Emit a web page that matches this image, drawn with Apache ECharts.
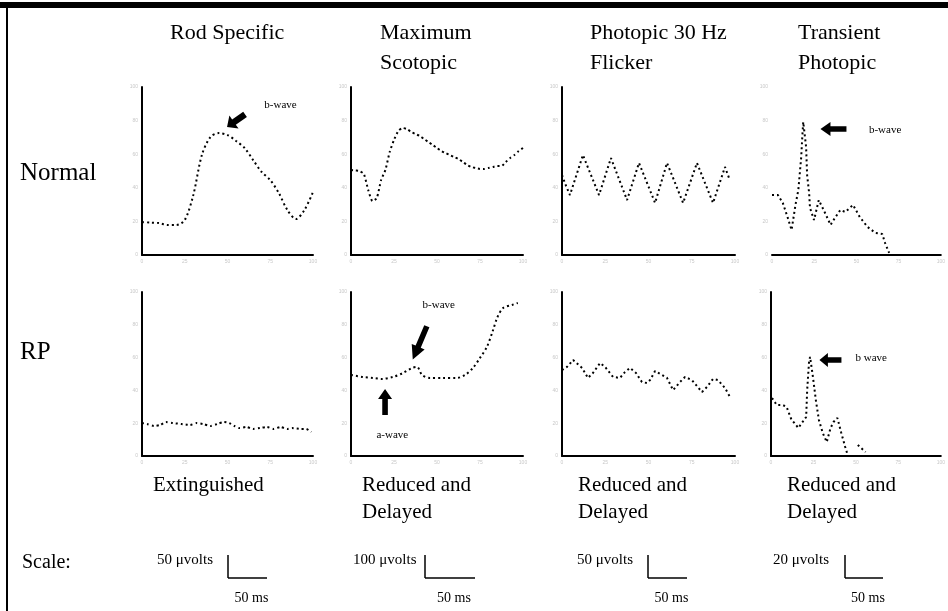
<!DOCTYPE html>
<html>
<head>
<meta charset="utf-8">
<title>ERG responses</title>
<script src="https://cdn.jsdelivr.net/npm/echarts@6/dist/echarts.min.js"></script>
<style>
  html, body { margin: 0; padding: 0; background: #fff; }
  #chart { width: 948px; height: 611px; }
</style>
</head>
<body>
<div id="chart"></div>
<script>
// column / row headings
const columnTitles = [['Rod Specific'], ['Maximum', 'Scotopic'], ['Photopic 30 Hz', 'Flicker'], ['Transient', 'Photopic']];
const rowTitles = ['Normal', 'RP'];
const findings = [['Extinguished'], ['Reduced and', 'Delayed'], ['Reduced and', 'Delayed'], ['Reduced and', 'Delayed']];
const voltScales = ['50 \u03bcvolts', '100 \u03bcvolts', '50 \u03bcvolts', '20 \u03bcvolts'];
const timeScales = ['50 ms', '50 ms', '50 ms', '50 ms'];

// traces: [time, amplitude] (time 0-100, amplitude 0-100)
const rodNormal = [[0, 19.6], [5, 19.3], [10, 19], [15, 17.9], [20, 17.9], [25, 20.8], [30, 35.7], [35, 59.5], [40, 70.2], [45, 72.6], [50, 71.4], [55, 67.9], [60, 63.7], [65, 56.5], [70, 49.4], [75, 44.6], [80, 36.9], [85, 26.8], [90, 21.4], [95, 26.8], [100, 37.5]];
const scotopicNormal = [[0, 50.6], [2.5, 50.3], [5, 50], [7.5, 48.2], [10, 38.7], [12.5, 32.1], [15, 33.9], [17.5, 44.6], [20, 50.6], [22.5, 61.3], [25, 68.5], [27.5, 73.8], [30, 75.6], [32.5, 75], [35, 73.2], [37.5, 72], [40, 70.8], [42.5, 69], [45, 67.3], [47.5, 65.5], [50, 63.7], [52.5, 61.9], [55, 60.7], [57.5, 59.5], [60, 58.3], [62.5, 57.1], [65, 55.4], [67.5, 53.6], [70, 52.4], [72.5, 51.8], [75, 51.2], [77.5, 51.2], [80, 51.8], [82.5, 52.4], [85, 53], [87.5, 53], [90, 55.4], [92.5, 57.7], [95, 59.5], [97.5, 61.9], [100, 63.7]];
const flickerNormal = [[0, 47.6], [2, 42], [4.6, 35.7], [12.1, 59.5], [21.4, 35.7], [28.3, 57.7], [37.6, 32.7], [44.5, 54.8], [53.8, 31], [60.7, 54.8], [70, 31], [78, 54.8], [87.3, 31], [94.2, 52.4], [97, 44.6]];
const transientNormal = [[0, 35.7], [3.5, 35.7], [6.4, 31], [9.2, 22.6], [11.6, 14.9], [13.9, 29.8], [15.6, 38.7], [17.3, 58.3], [17.9, 69.6], [18.5, 79.2], [20.2, 64.3], [20.8, 47.6], [22, 36.9], [22.5, 28], [24.9, 20.8], [27.7, 32.7], [30.6, 26.8], [34.7, 17.9], [37.6, 22.6], [40.5, 26.8], [43.4, 25.6], [48, 29.8], [52, 22.6], [56.6, 16.7], [61.3, 13.1], [65.3, 12.5], [67, 7.1], [69.4, 1.2]];
const rodRP = [[0, 20.1], [3, 19.5], [7, 18.3], [10.5, 18.9], [14, 20.7], [18, 20.1], [23, 19.5], [28, 18.9], [32, 20.1], [35.7, 19.5], [40, 18.3], [44, 19.5], [48, 20.7], [51, 20.1], [54, 18.3], [57, 17], [61, 17.7], [65, 16.5], [69, 17.1], [73, 17.7], [77, 16.5], [81, 17.7], [85, 16.5], [88, 17], [93, 16.5], [96, 16.5], [99, 14.6]];
const scotopicRP = [[0, 49.4], [6.9, 48.2], [12.8, 47.6], [18, 47], [24.4, 48.2], [30.2, 50.6], [35.5, 53.7], [38.4, 54.3], [41.3, 49.4], [45.9, 47.6], [53.5, 47.6], [61.6, 47.6], [66.3, 49.4], [70.9, 53.7], [75, 59.8], [79, 66.5], [82.6, 76.8], [84.9, 84.1], [88.4, 90.2], [93.6, 92.1], [97, 93.3]];
const flickerRP = [[0, 52.4], [2.9, 54.3], [6.4, 58.5], [11.6, 53.7], [15, 47.6], [17.9, 50.6], [22, 56.7], [24.9, 54.3], [29.5, 48.2], [33.5, 47.6], [36.4, 51.2], [39.3, 53.7], [42.8, 50.6], [46.2, 45.1], [49.1, 44.5], [50.9, 46.3], [53.8, 51.8], [57.8, 49.4], [60.7, 47.6], [64.2, 40.2], [68.2, 45.1], [71.1, 48.2], [75.1, 46.3], [80.9, 39], [83.8, 42.1], [87.3, 47], [90.2, 46.3], [94.2, 41.5], [97.1, 36]];
const transientRP = [[0.6, 35.4], [3.4, 31.1], [6.9, 31.1], [9.2, 29.9], [12.1, 22], [13.8, 20.1], [16.1, 17.1], [20.7, 23.8], [21.3, 40.2], [22.4, 57.3], [23, 60.4], [24.7, 48.2], [26.4, 34.1], [28.2, 22], [30.5, 14], [32.8, 8.5], [35.1, 17.1], [36.8, 20.7], [39.1, 23.2], [41.4, 14], [43.7, 5.5], [44.8, 1.8], null, [51.1, 6.7], [55.7, 2.4]];

const serif = '"Liberation Serif", "DejaVu Serif", serif';
// block arrow pointing up, rotated per use
const arrowPath = 'path://M10,0 L20,10 L14,10 L14,26 L6,26 L6,10 L0,10 Z';

function arrow (coord, rotate, size) {
    return { coord: coord, symbol: arrowPath, symbolSize: size, symbolRotate: rotate, itemStyle: { color: '#000' }, label: { show: false } };
}
function note (coord, text) {
    return {
        coord: coord, symbol: 'rect', symbolSize: 1, itemStyle: { color: 'rgba(0,0,0,0)' },
        label: { show: true, formatter: text, color: '#000', fontSize: 11, fontFamily: serif, position: 'inside' }
    };
}

// one panel per trace
const panels = [
    { box: [142, 87, 171, 168], data: rodNormal, smooth: 0.3, yLine: true, marks: [arrow([55, 80], 125, [16, 22]), note([81, 89], 'b-wave')] },
    { box: [351, 87, 172, 168], data: scotopicNormal, smooth: 0.2, yLine: true, marks: [] },
    { box: [562, 87, 173, 168], data: flickerNormal, smooth: false, yLine: true, marks: [] },
    { box: [772, 87, 173, 168], data: transientNormal, smooth: false, yLine: false, marks: [arrow([36.4, 75], 90, [14, 26]), note([67, 74.4], 'b-wave')] },
    { box: [142, 292, 171, 164], data: rodRP, smooth: 0.2, yLine: true, marks: [] },
    { box: [351, 292, 172, 164], data: scotopicRP, smooth: 0.3, yLine: true, marks: [note([51, 92], 'b-wave'), arrow([40, 69], 157, [14, 36]), arrow([19.8, 33], 0, [14, 26]), note([24, 12.8], 'a-wave')] },
    { box: [562, 292, 173, 164], data: flickerRP, smooth: false, yLine: true, marks: [] },
    { box: [771, 292, 174, 164], data: transientRP, smooth: false, yLine: true, marks: [arrow([35, 58.5], 90, [14, 22]), note([59, 59.8], 'b wave')] }
];

const faintLabel = { fontSize: 5, color: '#c8c8c8', margin: 4 };
const grid = [], xAxis = [], yAxis = [], series = [];
panels.forEach(function (p, i) {
    grid.push({ left: p.box[0], top: p.box[1], width: p.box[2], height: p.box[3] });
    xAxis.push({
        gridIndex: i, type: 'value', min: 0, max: 100, interval: 25,
        axisLine: { show: true, lineStyle: { color: '#000', width: 2 } },
        axisTick: { show: false }, splitLine: { show: false }, axisLabel: faintLabel
    });
    yAxis.push({
        gridIndex: i, type: 'value', min: 0, max: 100, interval: 20,
        axisLine: { show: p.yLine, onZero: false, lineStyle: { color: '#000', width: 2 } },
        axisTick: { show: false }, splitLine: { show: false }, axisLabel: faintLabel
    });
    series.push({
        type: 'line', xAxisIndex: i, yAxisIndex: i, data: p.data,
        showSymbol: false, smooth: p.smooth, connectNulls: false,
        lineStyle: { color: '#000', width: 2, type: [2, 3] },
        markPoint: { label: { show: false }, data: p.marks }
    });
});

// headings, findings, scale bars, frame
const graphic = [];
function text (x, y, str, size, align) {
    graphic.push({ type: 'text', x: x, y: y, style: { text: str, font: size + 'px ' + serif, fill: '#000', textAlign: align || 'left', textVerticalAlign: 'middle' } });
}
function line (x1, y1, x2, y2, w) {
    graphic.push({ type: 'line', shape: { x1: x1, y1: y1, x2: x2, y2: y2 }, style: { stroke: '#000', lineWidth: w } });
}

const titleX = [170, 380, 590, 798];
columnTitles.forEach(function (t, i) { t.forEach(function (s, j) { text(titleX[i], 33 + j * 30, s, 22); }); });
text(20, 173, rowTitles[0], 25);
text(20, 352, rowTitles[1], 25);
const findingX = [153, 362, 578, 787];
findings.forEach(function (t, i) { t.forEach(function (s, j) { text(findingX[i], 485 + j * 27, s, 21); }); });
text(22, 563, 'Scale:', 20);
const voltX = [157, 353, 577, 773];
const barX = [228, 425, 648, 845];
const barLen = [39, 50, 39, 38];
voltScales.forEach(function (s, i) {
    text(voltX[i], 560, s, 15);
    line(barX[i], 555, barX[i], 578, 1.5);
    line(barX[i], 578, barX[i] + barLen[i], 578, 1.5);
    text(barX[i] + barLen[i] / 2 + 4, 598, timeScales[i], 14, 'center');
});
line(0, 5, 948, 5, 6);
line(7, 5, 7, 611, 2);

const myChart = echarts.init(document.getElementById('chart'));
const option = {
    animation: false,
    backgroundColor: '#fff',
    grid: grid,
    xAxis: xAxis,
    yAxis: yAxis,
    series: series,
    graphic: graphic
};
myChart.setOption(option);
</script>
</body>
</html>
